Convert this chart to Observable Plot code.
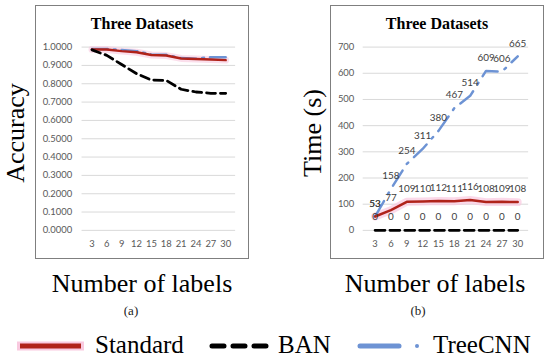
<!DOCTYPE html>
<html><head><meta charset="utf-8">
<script src="https://cdn.jsdelivr.net/npm/d3@7"></script>
<script src="https://cdn.jsdelivr.net/npm/@observablehq/plot@0.6"></script>
<style>
html,body{margin:0;padding:0;background:#fff;}
body{width:550px;height:357px;position:relative;overflow:hidden;color:#000;}
.serif{font-family:"Liberation Serif","DejaVu Serif",serif !important;}
.abs{position:absolute;white-space:nowrap;}
.frame{position:absolute;border:1px solid #7f7f7f;box-sizing:border-box;background:#fff;}
.frame svg{position:absolute;left:-1px;top:-1px;}
.ptitle{position:absolute;white-space:nowrap;font-weight:bold;font-size:16px;line-height:16px;transform:translateX(-50%);}
.ytitle{position:absolute;white-space:nowrap;font-size:26px;line-height:26px;transform:translate(-50%,-50%) rotate(-90deg);}
.xtitle{position:absolute;white-space:nowrap;font-size:26px;line-height:26px;transform:translateX(-50%);}
.sub{position:absolute;white-space:nowrap;font-size:13px;line-height:14px;transform:translateX(-50%);color:#222;}
.leg{position:absolute;white-space:nowrap;font-size:25px;line-height:25px;}
</style></head><body>
<script>
// ---- data ----
const labels = [3, 6, 9, 12, 15, 18, 21, 24, 27, 30];
const accStandard = [0.987, 0.987, 0.978, 0.972, 0.957, 0.954, 0.938, 0.935, 0.932, 0.929];
const accBAN      = [0.985, 0.955, 0.905, 0.855, 0.820, 0.818, 0.770, 0.755, 0.748, 0.748];
const accTreeCNN  = [0.990, 0.990, 0.984, 0.978, 0.960, 0.958, 0.940, 0.937, 0.945, 0.945];
const timeStandard = [53, 77, 109, 110, 112, 111, 116, 108, 109, 108];
const timeBAN      = [0, 0, 0, 0, 0, 0, 0, 0, 0, 0];
const timeTreeCNN  = [53, 158, 254, 311, 380, 467, 514, 609, 606, 665];
const accTicks = [0, 0.1, 0.2, 0.3, 0.4, 0.5, 0.6, 0.7, 0.8, 0.9, 1.0];
const timeTicks = [0, 100, 200, 300, 400, 500, 600, 700];
const seriesNames = ["Standard", "BAN", "TreeCNN"];
const panelTitle = "Three Datasets";
const xTitle = "Number of labels";
const yTitles = ["Accuracy", "Time (s)"];
const subLabels = ["(a)", "(b)"];

// ---- colours ----
const RED = "#b0231a", HALO = "#f9c9df", BLUE = "#6d93d4", GRID = "#d9d9d9", TICK = "#595959";

const rows = (vals) => labels.map((x, i) => ({x, v: vals[i]}));
function add(html){ const d = document.createElement("div"); d.innerHTML = html; const el = d.firstElementChild; document.body.appendChild(el); return el; }

const common = {
  width: 214, height: 254, marginTop: 42, marginBottom: 27,
  style: {fontFamily: "Lato, 'Open Sans', sans-serif", fontSize: "9.5px", color: TICK, background: "transparent", overflow: "visible"}
};

// ---- panel (a) ----
const pa = Plot.plot({
  ...common, marginLeft: 47, marginRight: 12,
  x: {type: "point", domain: labels, padding: 0.5},
  y: {domain: [0, 1]},
  marks: [
    Plot.gridY(accTicks, {stroke: GRID, strokeOpacity: 1, strokeWidth: 1}),
    Plot.axisY(accTicks, {tickSize: 0, tickPadding: 10, tickFormat: d3.format(".4f"), label: null, fill: TICK}),
    Plot.axisX(labels, {tickSize: 0, tickPadding: 10, label: null, fill: TICK}),
    Plot.line(rows(accStandard), {x: "x", y: "v", stroke: HALO, strokeWidth: 7, strokeOpacity: 0.6}),
    Plot.line(rows(accTreeCNN), {x: "x", y: "v", stroke: BLUE, strokeWidth: 2.5, strokeDasharray: "16,6,2,6"}),
    Plot.line(rows(accStandard), {x: "x", y: "v", stroke: RED, strokeWidth: 2.5}),
    Plot.line(rows(accBAN), {x: "x", y: "v", stroke: "#000", strokeWidth: 2.8, strokeDasharray: "9,5"})
  ]
});

// ---- panel (b) ----
const pb = Plot.plot({
  ...common, marginLeft: 33, marginRight: 14,
  x: {type: "point", domain: labels, padding: 0.5},
  y: {domain: [0, 700]},
  marks: [
    Plot.gridY(timeTicks, {stroke: GRID, strokeOpacity: 1, strokeWidth: 1}),
    Plot.axisY(timeTicks, {tickSize: 0, tickPadding: 9, label: null, fill: TICK}),
    Plot.axisX(labels, {tickSize: 0, tickPadding: 10, label: null, fill: TICK}),
    Plot.line(rows(timeStandard), {x: "x", y: "v", stroke: HALO, strokeWidth: 8, strokeOpacity: 0.7}),
    Plot.line(rows(timeTreeCNN), {x: "x", y: "v", stroke: BLUE, strokeWidth: 2.5, strokeDasharray: "18,8,2,8"}),
    Plot.line(rows(timeStandard), {x: "x", y: "v", stroke: RED, strokeWidth: 2.5}),
    Plot.line(rows(timeBAN), {x: "x", y: "v", stroke: "#000", strokeWidth: 2.8, strokeDasharray: "10,5"}),
    Plot.text(rows(timeBAN), {x: "x", y: "v", text: d => String(d.v), dy: -14, fill: "#404040", fontSize: 10}),
    Plot.text(rows(timeStandard), {x: "x", y: "v", text: d => String(d.v), dy: -13, fill: "#404040", fontSize: 10}),
    Plot.text(rows(timeTreeCNN), {x: "x", y: "v", text: d => String(d.v), dy: -13, fill: "#404040", fontSize: 10})
  ]
});

const fa = add('<div class="frame" style="left:35px;top:5px;width:214px;height:254px;"></div>');
fa.appendChild(pa);
const fb = add('<div class="frame" style="left:330px;top:5px;width:214px;height:254px;"></div>');
fb.appendChild(pb);

add(`<div class="ptitle serif" style="left:142px;top:16px;">${panelTitle}</div>`);
add(`<div class="ptitle serif" style="left:437px;top:16px;">${panelTitle}</div>`);
add(`<div class="ytitle serif" style="left:16px;top:133px;">${yTitles[0]}</div>`);
add(`<div class="ytitle serif" style="left:313px;top:133px;">${yTitles[1]}</div>`);
add(`<div class="xtitle serif" style="left:142px;top:271px;">${xTitle}</div>`);
add(`<div class="xtitle serif" style="left:435px;top:271px;">${xTitle}</div>`);
add(`<div class="sub serif" style="left:131px;top:304px;">${subLabels[0]}</div>`);
add(`<div class="sub serif" style="left:418px;top:304px;">${subLabels[1]}</div>`);

// ---- legend ----
const legSvg = `<svg class="abs" style="left:0;top:330px;" width="550" height="30">
  <line x1="17" y1="16" x2="84" y2="16" stroke="${HALO}" stroke-width="9"/>
  <line x1="20" y1="16" x2="81" y2="16" stroke="${RED}" stroke-width="5"/>
  <line x1="212" y1="16" x2="269" y2="16" stroke="#000" stroke-width="5" stroke-linecap="round" stroke-dasharray="12,9"/>
  <line x1="360" y1="16" x2="399" y2="16" stroke="${BLUE}" stroke-width="5" stroke-linecap="round"/>
  <circle cx="417" cy="16" r="2" fill="${BLUE}"/>
</svg>`;
add(legSvg);
add(`<div class="leg serif" style="left:95px;top:332px;">${seriesNames[0]}</div>`);
add(`<div class="leg serif" style="left:278px;top:332px;">${seriesNames[1]}</div>`);
add(`<div class="leg serif" style="left:433px;top:332px;">${seriesNames[2]}</div>`);
</script>
</body></html>
